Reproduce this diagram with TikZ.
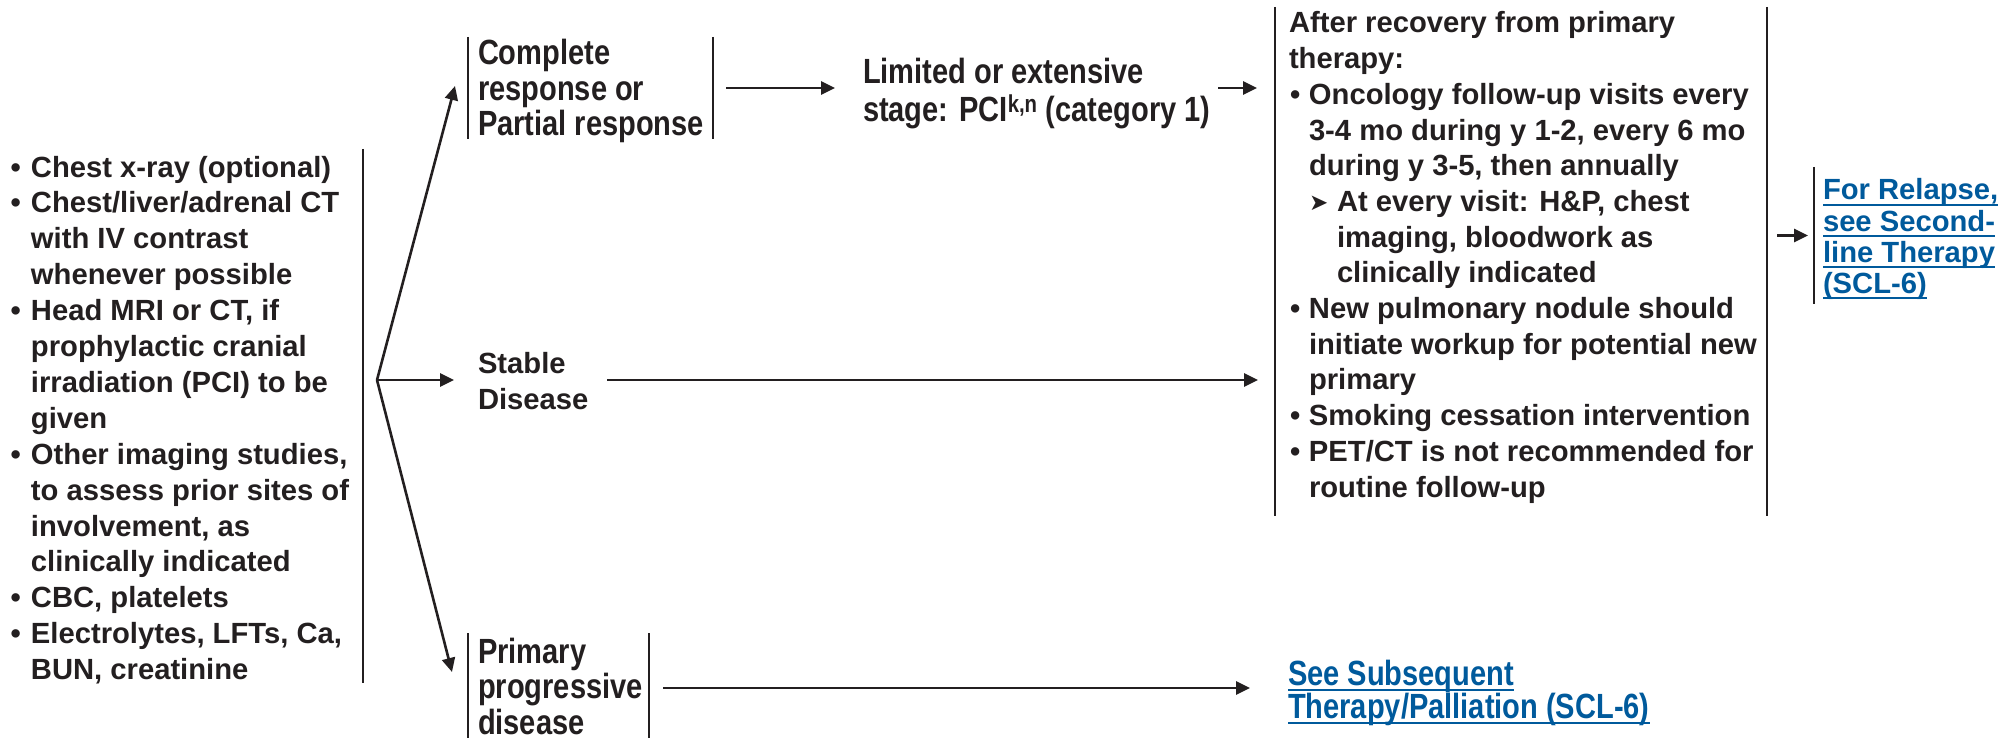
\documentclass[tikz,border=0pt]{standalone}
\usepackage{fontspec}
\setmainfont{Liberation Sans}
\newfontfamily\cnd[FakeStretch=0.83]{Liberation Sans}
\newfontfamily\djv{DejaVu Sans}
\usetikzlibrary{arrows.meta}
\definecolor{ink}{RGB}{35,31,32}
\definecolor{linkblue}{RGB}{0,90,156}
\newcommand\bul{\makebox[20.5pt][l]{•}}
\newcommand\ind{\hspace*{20.5pt}}
\newcommand\bulr{\makebox[20pt][l]{\hspace{1pt}•}}
\newcommand\indr{\hspace*{20pt}}
\newcommand\subarr{\makebox[28pt][l]{\raisebox{1pt}{\djv\fontsize{23}{23}\selectfont ➤}}}
\newcommand\ulk[1]{\setbox0\hbox{#1}\rlap{\rule[-6pt]{\wd0}{2.4pt}}\box0}
\begin{document}
\begin{tikzpicture}[x=1pt,y=-1pt,
  every node/.style={inner sep=0pt,outer sep=0pt,text=ink},
  reg/.style={font=\fontsize{29.2}{35.9}\selectfont\bfseries,align=left,anchor=base west},
  cn/.style={font=\cnd\fontsize{35}{35.5}\selectfont\bfseries,align=left,anchor=base west},
  frame/.style={minimum width=#1,anchor=north west},
  arr/.style={draw=ink,line width=2.6pt,-{Triangle[length=14pt,width=13pt]}},
  sep/.style={draw=ink,line width=2.4pt}]
\fill[white] (0,0) rectangle (2014,738);
\useasboundingbox (0,0) rectangle (2014,738);

% frames (bracket boxes)
\node[frame=355pt,minimum height=534pt] (leftbox) at (8,149) {};
\node[frame=245pt,minimum height=102pt] (crbox) at (468,37) {};
\node[frame=181pt,minimum height=110pt] (pbox) at (468,633) {};
\node[frame=492pt,minimum height=509pt] (recbox) at (1275,7) {};
\node[frame=190pt,minimum height=137pt] (relbox) at (1814,167) {};

\draw[sep] (leftbox.north east) -- (leftbox.south east);
\draw[sep] (crbox.north west) -- (crbox.south west);
\draw[sep] (crbox.north east) -- (crbox.south east);
\draw[sep] (pbox.north west) -- (pbox.south west);
\draw[sep] (pbox.north east) -- (pbox.south east);
\draw[sep] (recbox.north west) -- (recbox.south west);
\draw[sep] (recbox.north east) -- (recbox.south east);
\draw[sep] (relbox.north west) -- (relbox.south west);

% texts (anchor = baseline of the last line)
\node[reg] (leftlist) at (10.5,679.6) {\bul Chest x-ray (optional)\\
\bul Chest/liver/adrenal CT\\
\ind with IV contrast\\
\ind whenever possible\\
\bul Head MRI or CT, if\\
\ind prophylactic cranial\\
\ind irradiation (PCI) to be\\
\ind given\\
\bul Other imaging studies,\\
\ind to assess prior sites of\\
\ind involvement, as\\
\ind clinically indicated\\
\bul CBC, platelets\\
\bul Electrolytes, LFTs, Ca,\\
\ind BUN, creatinine};

\node[cn] (crtext) at (478,136) {Complete\\response or\\Partial response};
\node[cn] (lim) at (863,122) {Limited or extensive\\[2.5pt]stage: PCI\textsuperscript{k,n} (category 1)};
\node[reg] (stab) at (478,409) {Stable\\Disease};
\node[cn] (ptext) at (478,734) {Primary\\progressive\\disease};
\node[cn,text=linkblue,font=\cnd\fontsize{35}{33}\selectfont\bfseries] (subs) at (1288,718)
  {\ulk{See Subsequent}\\\ulk{Therapy/Palliation (SCL-6)}};

\node[reg,font=\fontsize{29.2}{35.7}\selectfont\bfseries] (rectext) at (1289,497) {After recovery from primary\\
therapy:\\
\bulr Oncology follow-up visits every\\
\indr 3-4 mo during y 1-2, every 6 mo\\
\indr during y 3-5, then annually\\
\indr\subarr At every visit: H\&P, chest\\
\indr\hspace*{28pt}imaging, bloodwork as\\
\indr\hspace*{28pt}clinically indicated\\
\bulr New pulmonary nodule should\\
\indr initiate workup for potential new\\
\indr primary\\
\bulr Smoking cessation intervention\\
\bulr PET/CT is not recommended for\\
\indr routine follow-up};

\node[reg,text=linkblue,font=\fontsize{29.2}{31}\selectfont\bfseries] (reltext) at (1823,293)
  {\ulk{For Relapse,}\\\ulk{see Second-}\\\ulk{line Therapy}\\\ulk{(SCL-6)}};

% connectors
\coordinate (fork) at (377,380);
\coordinate (upTip) at (455,86);
\coordinate (downTip) at (452,672);
\draw[arr] (fork) -- (upTip);
\draw[arr] (fork) -- (downTip);
\draw[arr,shorten >=24pt] (fork) -- (fork -| stab.west);
\draw[arr,shorten <=13pt,shorten >=28pt] (crbox.east) -- (crbox.east -| lim.west);
\draw[arr,shorten <=8pt,shorten >=18pt] (crbox.east -| lim.east) -- (crbox.east -| recbox.west);
\draw[arr,shorten <=19pt,shorten >=17pt] (fork -| stab.east) -- (fork -| recbox.west);
\draw[arr,shorten <=14pt,shorten >=38pt] (pbox.east) -- (pbox.east -| subs.west);
\draw[arr,shorten <=10pt,shorten >=6pt] (relbox.west -| recbox.east) -- (relbox.west);
\end{tikzpicture}
\end{document}
